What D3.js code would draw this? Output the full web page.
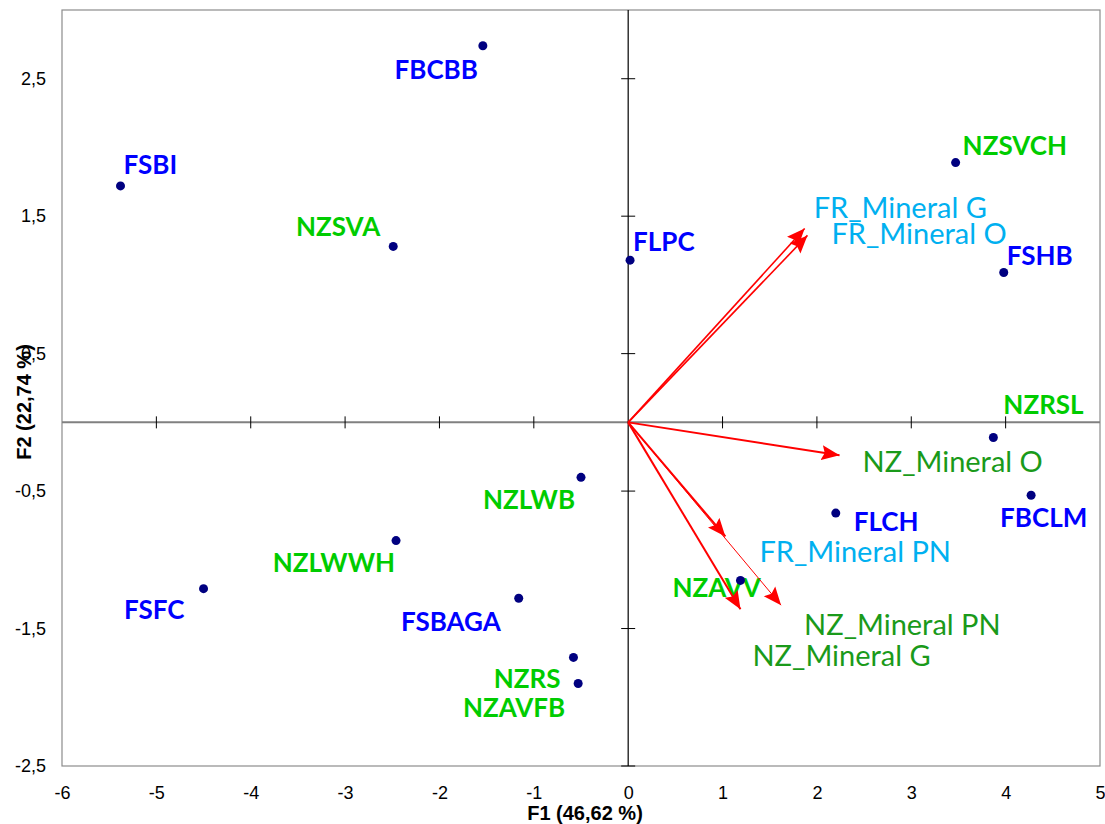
<!DOCTYPE html>
<html lang="en">
<head>
<meta charset="utf-8">
<title>ACP F1 x F2</title>
<script src="https://d3js.org/d3.v7.min.js"></script>
<style>
  body { margin: 0; background: #fff; }
  svg { display: block; }
  .tick-lbl { font-family: "Liberation Sans", Arial, sans-serif; font-size: 18px; fill: #000; }
  .axis-title { font-family: "Liberation Sans", Arial, sans-serif; font-size: 20px; font-weight: bold; fill: #000; }
  .obs-lbl { font-family: Lato, "Noto Sans", sans-serif; font-size: 26px; font-weight: bold; }
  .var-lbl { font-family: Lato, "Noto Sans", sans-serif; font-size: 29px; }
</style>
</head>
<body>
<div id="chart"></div>
<script>
// observations (F1, F2)
var obsNames = ["FBCBB", "FSBI", "NZSVA", "FLPC", "NZSVCH", "FSHB", "NZRSL", "FBCLM",
                "FLCH", "NZAVV", "NZLWB", "NZLWWH", "FSFC", "FSBAGA", "NZRS", "NZAVFB"];
var obsF1 = [-1.54, -5.38, -2.49, 0.02, 3.47, 3.98, 3.87, 4.27,
             2.20, 1.19, -0.50, -2.46, -4.50, -1.16, -0.58, -0.53];
var obsF2 = [2.74, 1.72, 1.28, 1.18, 1.89, 1.09, -0.11, -0.53,
             -0.66, -1.15, -0.40, -0.86, -1.21, -1.28, -1.71, -1.90];

// variables (arrows)
var varNames = ["FR_Mineral G", "FR_Mineral O", "NZ_Mineral O", "FR_Mineral PN", "NZ_Mineral PN", "NZ_Mineral G"];
var varF1 = [1.87, 1.90, 2.24, 1.03, 1.62, 1.19];
var varF2 = [1.41, 1.36, -0.24, -0.83, -1.33, -1.36];

var xTicks = [-6, -5, -4, -3, -2, -1, 0, 1, 2, 3, 4, 5];
var yTicks = [-2.5, -1.5, -0.5, 0.5, 1.5, 2.5];

// label placement (offset from the mark, in px)
var obsLabelPos = {
  FBCBB: [-5, 33, "end"], FSBI: [3, -12, "start"], NZSVA: [-13, -10, "end"],
  FLPC: [3, -9, "start"], NZSVCH: [7, -8, "start"], FSHB: [3, -8, "start"],
  NZRSL: [10, -23, "start"], FBCLM: [-31, 32, "start"], FLCH: [18, 18, "start"],
  NZAVV: [-68, 17, "start"], NZLWB: [-6, 32, "end"], NZLWWH: [-1, 31, "end"],
  FSFC: [-19, 30, "end"], FSBAGA: [-18, 33, "end"], NZRS: [-13, 31, "end"],
  NZAVFB: [-13, 33, "end"]
};
var varLabelPos = {
  "FR_Mineral G": [9, -11], "FR_Mineral O": [24, 9], "NZ_Mineral O": [23, 17],
  "FR_Mineral PN": [34, 26], "NZ_Mineral PN": [23, 30], "NZ_Mineral G": [12, 57]
};

var W = 1105, H = 824;
var margin = {top: 10, right: 5, bottom: 58, left: 62};
var width = W - margin.left - margin.right,
    height = H - margin.top - margin.bottom;

var fmt = function(d) { return String(d).replace(".", ","); };

var x = d3.scaleLinear().domain([-6, 5]).range([0, width]);
var y = d3.scaleLinear().domain([-2.5, 3]).range([height, 0]);

var svg = d3.select("#chart").append("svg")
    .attr("width", W).attr("height", H);

svg.append("defs").append("marker")
    .attr("id", "head")
    .attr("viewBox", "0 -8 20 16")
    .attr("refX", 18).attr("refY", 0)
    .attr("markerUnits", "userSpaceOnUse")
    .attr("markerWidth", 20).attr("markerHeight", 16)
    .attr("orient", "auto")
  .append("path")
    .attr("d", "M0,-7.5L18,0L0,7.5L3,0Z")
    .attr("fill", "#ff0000");

var g = svg.append("g")
    .attr("transform", "translate(" + margin.left + "," + margin.top + ")");

// frame
g.append("rect")
    .attr("width", width).attr("height", height)
    .attr("fill", "none").attr("stroke", "#8c8c8c").attr("stroke-width", 1.2);

// tick labels on the frame
var yAxis = g.append("g")
    .call(d3.axisLeft(y).tickValues(yTicks).tickFormat(fmt).tickSize(0).tickPadding(16));
var xAxis = g.append("g")
    .attr("transform", "translate(0," + height + ")")
    .call(d3.axisBottom(x).tickValues(xTicks).tickFormat(fmt).tickSize(0).tickPadding(20));
[yAxis, xAxis].forEach(function(a) {
  a.select(".domain").remove();
  a.selectAll("text").attr("class", "tick-lbl").attr("font-family", null).attr("font-size", null);
});

// zero axes
g.append("line")
    .attr("x1", 0).attr("x2", width).attr("y1", y(0)).attr("y2", y(0))
    .attr("stroke", "#808080").attr("stroke-width", 2);
g.append("line")
    .attr("x1", x(0)).attr("x2", x(0)).attr("y1", 0).attr("y2", height)
    .attr("stroke", "#000").attr("stroke-width", 1.2);
g.selectAll(".xt").data(xTicks.filter(function(d) { return d > -6 && d < 5 && d !== 0; }))
  .enter().append("line")
    .attr("x1", function(d) { return x(d); }).attr("x2", function(d) { return x(d); })
    .attr("y1", y(0) - 6).attr("y2", y(0) + 6)
    .attr("stroke", "#000").attr("stroke-width", 1);
g.selectAll(".yt").data(yTicks)
  .enter().append("line")
    .attr("x1", x(0) - 7).attr("x2", x(0) + 7)
    .attr("y1", function(d) { return y(d); }).attr("y2", function(d) { return y(d); })
    .attr("stroke", "#000").attr("stroke-width", 1);

// axis titles
svg.append("text").attr("class", "axis-title")
    .attr("x", margin.left + width / 2 + 4).attr("y", 820)
    .attr("text-anchor", "middle").text("F1 (46,62 %)");
svg.append("text").attr("class", "axis-title")
    .attr("transform", "translate(31,402) rotate(-90)")
    .attr("text-anchor", "middle").text("F2 (22,74 %)");

// observations
var obs = obsNames.map(function(n, i) { return {name: n, f1: obsF1[i], f2: obsF2[i]}; });

g.selectAll(".obs-lbl").data(obs).enter().append("text")
    .attr("class", "obs-lbl")
    .attr("x", function(d) { return x(d.f1) + obsLabelPos[d.name][0]; })
    .attr("y", function(d) { return y(d.f2) + obsLabelPos[d.name][1]; })
    .attr("text-anchor", function(d) { return obsLabelPos[d.name][2]; })
    .attr("fill", function(d) { return d.name.indexOf("NZ") === 0 ? "#00cc00" : "#0000ff"; })
    .text(function(d) { return d.name; });

g.selectAll(".dot").data(obs).enter().append("circle")
    .attr("cx", function(d) { return x(d.f1); })
    .attr("cy", function(d) { return y(d.f2); })
    .attr("r", 4.5)
    .attr("fill", "#000080");

// variable arrows
var vars = varNames.map(function(n, i) { return {name: n, f1: varF1[i], f2: varF2[i]}; });

g.selectAll(".arrow").data(vars).enter().append("line")
    .attr("x1", x(0)).attr("y1", y(0))
    .attr("x2", function(d) { return x(d.f1); })
    .attr("y2", function(d) { return y(d.f2); })
    .attr("stroke", "#ff0000")
    .attr("stroke-width", function(d) {
      if (d.name === "NZ_Mineral PN") return 1;
      return d.name.indexOf("FR_Mineral G") === 0 || d.name === "FR_Mineral O" ? 1.6 : 2;
    })
    .attr("marker-end", "url(#head)");

g.selectAll(".var-lbl").data(vars).enter().append("text")
    .attr("class", "var-lbl")
    .attr("x", function(d) { return x(d.f1) + varLabelPos[d.name][0]; })
    .attr("y", function(d) { return y(d.f2) + varLabelPos[d.name][1]; })
    .attr("fill", function(d) { return d.name.indexOf("FR") === 0 ? "#00b0f0" : "#1a9a1a"; })
    .text(function(d) { return d.name; });
</script>
</body>
</html>
